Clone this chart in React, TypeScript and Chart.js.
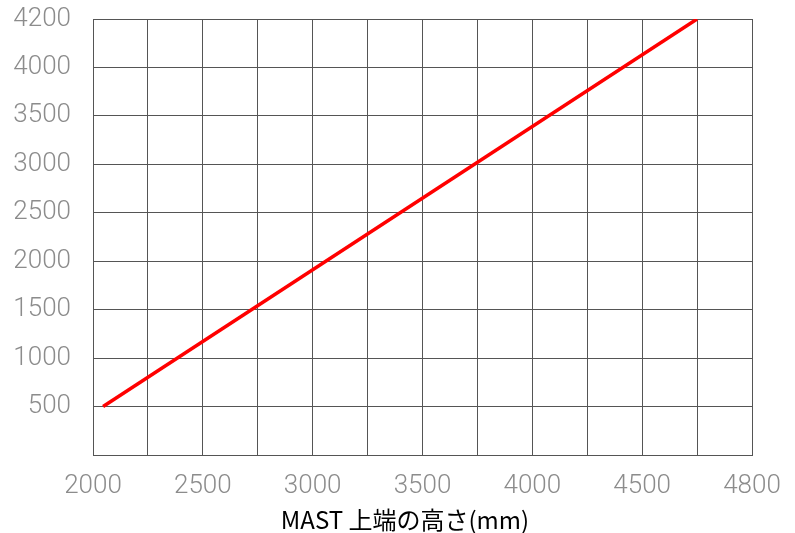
import React, { useEffect, useRef } from "react";
import { Chart, registerables } from "chart.js";

Chart.register(...registerables);

// Grid positions (axis units) and the labels printed at them
const xTickValues = [2000, 2250, 2500, 2750, 3000, 3250, 3500, 3750, 4000, 4250, 4500, 4750, 5000];
const xTickLabels = ["2000", "", "2500", "", "3000", "", "3500", "", "4000", "", "4500", "", "4800"];
const yTickValues = [0, 500, 1000, 1500, 2000, 2500, 3000, 3500, 4000, 4500];
const yTickLabels = ["", "500", "1000", "1500", "2000", "2500", "3000", "3500", "4000", "4200"];

// Series (in grid units)
const lineX = [2046, 4750];
const lineY = [500, 4500];

const xTitle = "MAST 上端の高さ(mm)";

const titlePlugin = {
  id: "xTitleText",
  afterDraw(chart: any) {
    const c = chart.ctx;
    c.save();
    c.font = "24px 'Noto Sans CJK JP'";
    c.fillStyle = "#000000";
    c.textAlign = "center";
    c.textBaseline = "middle";
    c.fillText(xTitle, 405, 520);
    c.restore();
  },
};

export default function App() {
  const canvasRef = useRef<HTMLCanvasElement | null>(null);

  useEffect(() => {
    document.body.style.margin = "0";
    const ctx = canvasRef.current!.getContext("2d")!;
    const tickFont = { family: "Roboto", size: 26, weight: 300 as any };
    const chart = new Chart(ctx, {
      type: "scatter",
      data: {
        datasets: [
          {
            data: lineX.map((x, i) => ({ x, y: lineY[i] })),
            showLine: true,
            borderColor: "#ff0000",
            borderWidth: 3.5,
            pointRadius: 0,
            fill: false,
          },
        ],
      },
      plugins: [titlePlugin],
      options: {
        responsive: false,
        animation: false,
        maintainAspectRatio: false,
        layout: { padding: { left: 0, right: 43, top: 19, bottom: 0 } },
        plugins: { legend: { display: false }, tooltip: { enabled: false } },
        scales: {
          x: {
            type: "linear",
            min: 2000,
            max: 5000,
            afterBuildTicks: (scale: any) => {
              scale.ticks = xTickValues.map((v) => ({ value: v }));
            },
            afterFit: (scale: any) => {
              scale.height = 533 - 455;
            },
            ticks: {
              autoSkip: false,
              maxRotation: 0,
              padding: 0,
              color: "#8c8c8c",
              font: tickFont,
              callback: (_v: any, i: number) => xTickLabels[i],
            },
            grid: {
              color: "#555555",
              lineWidth: 1,
              drawTicks: true,
              tickLength: 16,
              tickColor: "rgba(0,0,0,0)",
            },
            border: { color: "#555555", width: 1 },
          },
          y: {
            type: "linear",
            min: 0,
            max: 4500,
            afterBuildTicks: (scale: any) => {
              scale.ticks = yTickValues.map((v) => ({ value: v }));
            },
            afterFit: (scale: any) => {
              scale.width = 93;
            },
            ticks: {
              autoSkip: false,
              padding: 0,
              color: "#8c8c8c",
              font: tickFont,
              callback: (_v: any, i: number) => yTickLabels[i],
            },
            grid: {
              color: "#555555",
              lineWidth: 1,
              drawTicks: true,
              tickLength: 22,
              tickColor: "rgba(0,0,0,0)",
            },
            border: { color: "#555555", width: 1 },
          },
        },
      },
    });
    return () => chart.destroy();
  }, []);

  return (
    <div style={{ position: "absolute", left: 0, top: 0, width: 795, height: 533, background: "#fff" }}>
      <canvas ref={canvasRef} width={795} height={533} style={{ display: "block" }} />
    </div>
  );
}
